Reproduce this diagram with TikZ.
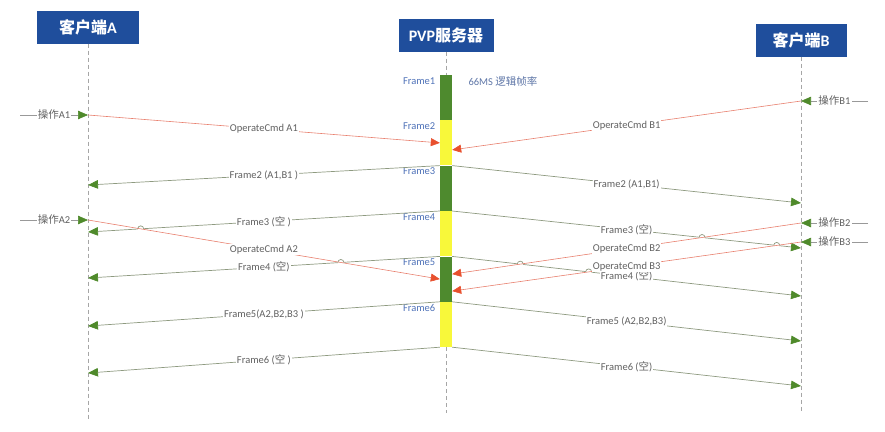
\documentclass[tikz,border=0pt]{standalone}
\usepackage{fontspec}
\setmainfont{Carlito}
\newfontfamily\cjk{Noto Sans CJK SC}
\usetikzlibrary{arrows.meta, positioning, calc, intersections}
\definecolor{hdrblue}{HTML}{1F4E9C}
\definecolor{bargreen}{HTML}{4E8A2E}
\definecolor{baryellow}{HTML}{F8F83A}
\definecolor{flblue}{HTML}{4F72B8}
\definecolor{frmline}{HTML}{8E9A80}
\definecolor{tipgreen}{HTML}{4F8A2B}
\definecolor{cmdline}{HTML}{E8806E}
\definecolor{tipred}{HTML}{E8502E}
\newcommand{\zh}[1]{{\cjk #1}}

\begin{document}
\begin{tikzpicture}[x=1pt, y=-1pt,
    header/.style={fill=hdrblue, text=white, minimum height=33pt, inner sep=0pt,
        font=\fontsize{16}{19}\selectfont\bfseries},
    seg/.style={minimum width=12pt, minimum height=45pt, inner sep=0pt},
    flabel/.style={anchor=east, text=flblue, font=\fontsize{10.5}{12}\selectfont},
    life/.style={draw=gray!70, dash pattern=on 4pt off 3pt, thin},
    lbl/.style={fill=white, text=black!62, inner sep=1pt, font=\fontsize{10.5}{12}\selectfont},
    frameln/.style={draw=frmline, line width=0.7pt},
    frm/.style={frameln, -{Triangle[length=10pt, width=8.5pt, color=tipgreen]}},
    cmd/.style={draw=cmdline, line width=0.6pt, -{Triangle[length=9pt, width=8pt, color=tipred]}},
    op/.style={draw=gray!80, line width=0.6pt, -{Triangle[length=10pt, width=8.5pt, color=tipgreen]}}
]
\useasboundingbox (0,0) rectangle (885,431);

% headers
\node[header, minimum width=102pt] (cla) at (88,27) {\zh{客户端}A};
\node[header, minimum width=95pt] (srv) at (446,35) {PVP\zh{服务器}};
\node[header, minimum width=91pt] (clb) at (801,40) {\zh{客户端}B};

% server frames
\node[seg, fill=bargreen] (f1) at (446,97.5) {};
\node[seg, fill=baryellow, below=0pt of f1] (f2) {};
\node[seg, fill=bargreen, below=0pt of f2] (f3) {};
\node[seg, fill=baryellow, below=0pt of f3] (f4) {};
\node[seg, fill=bargreen, below=0pt of f4] (f5) {};
\node[seg, fill=baryellow, below=0pt of f5] (f6) {};
\foreach \i in {1,...,6}
    \node[flabel] at ($(f\i.north west)+(-1,6)$) {Frame\i};
\node[anchor=west, text=flblue!70!gray, font=\fontsize{10.5}{12}\selectfont] (rate) at (465,81) {66MS \zh{逻辑帧率}};

% lifelines
\coordinate (endA) at (88,420);
\coordinate (endS) at (446,413);
\coordinate (endB) at (801,412);
\draw[life] (cla.south) -- (endA);
\draw[life] (srv.south) -- (f1.north);
\draw[life] (f6.south) -- (endS);
\draw[life] (clb.south) -- (endB);

% points on client A
\coordinate (inA1) at (88,115);
\coordinate (inA2) at (88,220);
\coordinate (rxA2) at (88,185);
\coordinate (rxA3) at (88,232);
\coordinate (rxA4) at (88,278);
\coordinate (rxA5) at (88,326);
\coordinate (rxA6) at (88,373);
% points on client B
\coordinate (inB1) at (801,101);
\coordinate (inB2) at (801,223);
\coordinate (inB3) at (801,242);
\coordinate (rxB2) at (801,203);
\coordinate (rxB3) at (801,248);
\coordinate (rxB4) at (801,296);
\coordinate (rxB5) at (801,341);
\coordinate (rxB6) at (801,386);
% server ends of commands
\coordinate (svB1) at ($(f2.east)+(0,7)$);
\coordinate (svB2) at ($(f5.east)+(0,-5)$);
\coordinate (svB3) at ($(f5.east)+(0,12)$);

% user operations
\coordinate (usA1) at (20,115);
\coordinate (usA2) at (20,220);
\coordinate (usB1) at (868,101);
\coordinate (usB2) at (868,223);
\coordinate (usB3) at (868,242);
\draw[op] (usA1) -- node[lbl] {\zh{操作}A1} (inA1);
\draw[op] (usA2) -- node[lbl] {\zh{操作}A2} (inA2);
\draw[op] (usB1) -- node[lbl] {\zh{操作}B1} (inB1);
\draw[op] (usB2) -- node[lbl] {\zh{操作}B2} (inB2);
\draw[op] (usB3) -- node[lbl] {\zh{操作}B3} (inB3);

% frames sent to clients
\draw[frm] (f3.north west) -- node[lbl] {Frame2 (A1,B1 )} (rxA2);
\draw[frm] (f3.north east) -- node[lbl] {Frame2 (A1,B1)} (rxB2);
\draw[frm, name path=fl3] (f4.north west) -- node[lbl] {Frame3 (\zh{空} )} (rxA3);
\draw[frm, name path=fr3] (f4.north east) -- node[lbl] {Frame3 (\zh{空})} (rxB3);
\draw[frm, name path=fl4] (f5.north west) -- node[lbl] {Frame4 (\zh{空})} (rxA4);
\draw[frm, name path=fr4] (f5.north east) -- node[lbl] {Frame4 (\zh{空})} (rxB4);
\draw[frm] (f6.north west) -- node[lbl] {Frame5(A2,B2,B3 )} (rxA5);
\draw[frm] (f6.north east) -- node[lbl] {Frame5 (A2,B2,B3)} (rxB5);
\draw[frm] (f6.south west) -- node[lbl] {Frame6 (\zh{空} )} (rxA6);
\draw[frm] (f6.south east) -- node[lbl] {Frame6 (\zh{空})} (rxB6);

% line hops
\path[name path=ca2] (inA2) -- (f5.west);
\path[name path=cb2] (inB2) -- (svB2);
\path[name path=cb3] (inB3) -- (svB3);
\path[name intersections={of=ca2 and fl3, by=h1}];
\path[name intersections={of=ca2 and fl4, by=h2}];
\path[name intersections={of=cb2 and fr3, by=h3}];
\path[name intersections={of=cb3 and fr3, by=h4}];
\path[name intersections={of=cb2 and fr4, by=h5}];
\path[name intersections={of=cb3 and fr4, by=h6}];
\foreach \h in {h1,h2,h3,h4,h5,h6} {
    \fill[white] (\h) circle[radius=3pt];
    \draw[frameln] ($(\h)+(-3pt,0)$) arc[start angle=180, end angle=0, radius=3pt];
}

% commands sent to server
\draw[cmd] (inA1) -- node[lbl] {OperateCmd A1} (f2.west);
\draw[cmd] (inB1) -- node[lbl] {OperateCmd B1} (svB1);
\draw[cmd] (inA2) -- node[lbl] {OperateCmd A2} (f5.west);
\draw[cmd] (inB2) -- node[lbl] {OperateCmd B2} (svB2);
\draw[cmd] (inB3) -- node[lbl] {OperateCmd B3} (svB3);

\end{tikzpicture}
\end{document}
